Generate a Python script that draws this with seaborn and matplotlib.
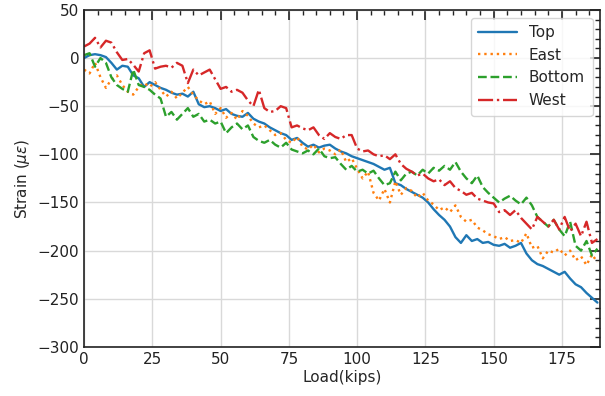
import numpy as np
import pandas as pd
import matplotlib
matplotlib.use("Agg")
import matplotlib.pyplot as plt
import seaborn as sns
from matplotlib.ticker import MultipleLocator

load = list(range(0, 190, 2))

top = [0, 3, 4, 3, 1, -5, -12, -8, -9, -18, -21, -30, -25, -28, -31, -33, -36, -38, -37, -40,
       -35, -48, -51, -50, -52, -55, -53, -58, -60, -61, -57, -63, -66, -68, -72, -75, -78, -80,
       -85, -83, -88, -92, -90, -93, -91, -90, -94, -97, -99, -102, -104, -106, -108, -110, -113,
       -116, -114, -130, -132, -136, -139, -142, -145, -150, -157, -163, -168, -175, -186, -192,
       -184, -190, -188, -192, -191, -194, -195, -193, -197, -195, -192, -203, -210, -214, -216,
       -219, -222, -225, -222, -229, -235, -238, -244, -249, -254]

east = [-12, -16, -5, -20, -31, -22, -18, -28, -35, -38, -30, -26, -30, -25, -33, -40, -35, -42,
        -36, -30, -38, -44, -48, -45, -58, -52, -62, -57, -64, -55, -60, -68, -72, -70, -75, -80,
        -78, -85, -88, -82, -92, -95, -90, -98, -94, -96, -100, -95, -108, -104, -115, -125, -118,
        -140, -148, -136, -150, -128, -142, -135, -138, -145, -140, -148, -152, -158, -155, -160,
        -153, -165, -170, -168, -176, -179, -183, -185, -188, -186, -190, -189, -192, -182, -197,
        -195, -208, -200, -202, -198, -205, -200, -210, -206, -215, -204, -212]

bottom = [3, 5, -9, 0, -5, -20, -28, -32, -35, -12, -28, -30, -33, -38, -42, -61, -56, -64, -58,
          -52, -61, -58, -66, -64, -68, -66, -78, -72, -68, -74, -70, -82, -86, -88, -85, -90, -93,
          -88, -95, -97, -99, -96, -100, -94, -102, -104, -103, -110, -116, -112, -118, -116, -120,
          -117, -125, -132, -130, -118, -127, -120, -118, -122, -116, -120, -114, -117, -112, -116,
          -108, -118, -125, -130, -122, -134, -140, -145, -150, -146, -143, -148, -152, -145, -153,
          -165, -170, -175, -168, -178, -185, -170, -195, -200, -190, -205, -198]

west = [12, 15, 21, 11, 18, 16, 6, -2, -1, -7, -14, 5, 8, -11, -9, -8, -10, -5, -8, -26, -12, -18,
        -15, -12, -22, -32, -30, -35, -33, -36, -44, -50, -33, -52, -56, -55, -50, -52, -72, -70,
        -73, -75, -72, -80, -84, -78, -82, -84, -80, -80, -94, -97, -96, -100, -102, -101, -105,
        -100, -110, -115, -118, -122, -120, -125, -128, -126, -132, -128, -135, -138, -142, -140,
        -146, -148, -150, -151, -160, -158, -163, -158, -166, -172, -178, -165, -170, -175, -168,
        -178, -165, -180, -172, -185, -170, -192, -188]

series_names = ["Top", "East", "Bottom", "West"]
series_vals = [top, east, bottom, west]
colors = ["#1f77b4", "#ff7f0e", "#2ca02c", "#d62728"]
styles = ["-", ":", "--", "-."]

sns.set_style("white")
plt.rcParams['font.family'] = ['DejaVu Sans']

fig = plt.figure(figsize=(6.05, 3.96), dpi=100)
ax = fig.add_axes([0.139, 0.124, 0.853, 0.851])

for name, vals, c, ls in zip(series_names, series_vals, colors, styles):
    df = pd.DataFrame({"Load": load[:len(vals)], "Strain": vals})
    sns.lineplot(data=df, x="Load", y="Strain", ax=ax, color=c, linestyle=ls,
                 linewidth=1.7, label=name, sort=False, estimator=None)

ax.set_xlim(0, 189)
ax.set_ylim(-300, 50)
ax.xaxis.set_major_locator(MultipleLocator(25))
ax.xaxis.set_minor_locator(MultipleLocator(5))
ax.yaxis.set_major_locator(MultipleLocator(50))
ax.yaxis.set_minor_locator(MultipleLocator(10))
ax.grid(True, which="major", color="#d9d9d9", linewidth=1)
ax.tick_params(which="both", direction="in", top=True, right=True, labelsize=11, colors="#222222")
ax.tick_params(which="major", length=7, width=1.2)
ax.tick_params(which="minor", length=3.5, width=1)
for s in ax.spines.values():
    s.set_color("#222222")
    s.set_linewidth(1.2)
ax.set_xlabel("Load(kips)", fontsize=11, labelpad=2)
ax.set_ylabel(r"Strain ($\mu\varepsilon$)", fontsize=11)
leg = ax.legend(loc="upper right", fontsize=11, handlelength=2.5, frameon=True,
                fancybox=True, borderpad=0.5, labelspacing=0.5)
leg.get_frame().set_edgecolor("#cccccc")

fig.savefig("out.png", dpi=100)
